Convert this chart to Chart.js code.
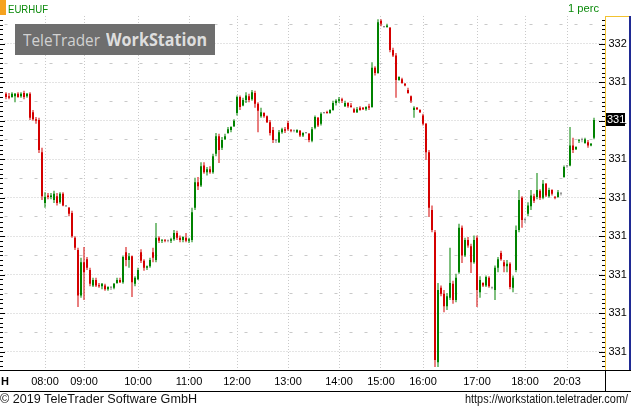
<!DOCTYPE html>
<html>
<head>
<meta charset="utf-8">
<script src="https://cdn.jsdelivr.net/npm/chart.js@4.4.0/dist/chart.umd.min.js"></script>
<style>
  html, body { margin: 0; padding: 0; background: #fff; }
  #wrap { position: relative; width: 631px; height: 408px; overflow: hidden; }
  #chart { position: absolute; left: 0; top: 0; }
  .t { position: absolute; white-space: nowrap; line-height: 1; transform-origin: 0 0; font-family: 'Liberation Sans', Arial, sans-serif; }
  #flag { position: absolute; left: 0; top: 0; width: 6px; height: 15px; background: #f5a21e; }
  #logo { position: absolute; left: 15px; top: 24px; width: 200px; height: 31px; background: #6e6e6e; }
  #sym, #period { color: #0a8a0a; font-size: 11.5px; }
  #logo1, #logo2 { font-family: 'Open Sans', sans-serif; font-size: 17px; }
  #logo1 { color: #d2d2d2; }
  #logo2 { color: #dedede; font-weight: bold; }
  #hh { font-size: 11px; font-weight: bold; color: #000; }
  #copy, #url { font-size: 13px; color: #111; }
</style>
</head>
<body>
<div id="wrap">
  <canvas id="chart" width="631" height="408"></canvas>
  <div id="flag"></div>
  <div class="t" id="sym">EURHUF</div>
  <div class="t" id="period">1 perc</div>
  <div id="logo"></div>
  <div class="t" id="logo1">TeleTrader</div>
  <div class="t" id="logo2">WorkStation</div>
  <div class="t" id="hh">H</div>
  <div class="t" id="copy">© 2019 TeleTrader Software GmbH</div>
  <div class="t" id="url">https://workstation.teletrader.com/</div>
</div>
<script>
// EURHUF, 1 minute candles (one slot per bar, gaps skipped)
const opens = [
  331.435, 331.432, 331.431, 331.432, 331.435, 331.432, 331.436, 331.432, 331.435, 331.411,
  331.402, 331.401, 331.359, 331.293, 331.303, 331.301, 331.297, 331.302, 331.294, 331.305,
  331.289, 331.287, 331.280, 331.248, 331.232, 331.173, 331.216, 331.220, 331.206, 331.186,
  331.193, 331.186, 331.185, 331.186, 331.181, 331.183, 331.183, 331.189, 331.193, 331.190,
  331.229, 331.219, 331.224, 331.188, 331.194, 331.229, 331.218, 331.209, 331.211, 331.229,
  331.219, 331.248, 331.244, 331.245, 331.244, 331.244, 331.246, 331.254, 331.248, 331.245,
  331.248, 331.244, 331.245, 331.287, 331.320, 331.316, 331.342, 331.333, 331.337, 331.333,
  331.357, 331.380, 331.365, 331.376, 331.384, 331.388, 331.393, 331.410, 331.431, 331.420,
  331.427, 331.432, 331.428, 331.436, 331.422, 331.406, 331.410, 331.406, 331.398, 331.388,
  331.374, 331.372, 331.385, 331.389, 331.397, 331.388, 331.387, 331.385, 331.387, 331.381,
  331.384, 331.383, 331.374, 331.391, 331.404, 331.396, 331.410, 331.411, 331.410, 331.414,
  331.423, 331.426, 331.428, 331.419, 331.423, 331.420, 331.415, 331.411, 331.417, 331.417,
  331.415, 331.419, 331.418, 331.469, 331.462, 331.530, 331.522, 331.522, 331.521, 331.492,
  331.485, 331.453, 331.454, 331.448, 331.440, 331.432, 331.414, 331.417, 331.414, 331.407,
  331.396, 331.359, 331.284, 331.255, 331.086, 331.183, 331.175, 331.159, 331.170, 331.188,
  331.167, 331.203, 331.261, 331.225, 331.245, 331.237, 331.216, 331.248, 331.177, 331.189,
  331.186, 331.196, 331.183, 331.180, 331.209, 331.228, 331.216, 331.211, 331.214, 331.183,
  331.206, 331.258, 331.300, 331.271, 331.279, 331.289, 331.302, 331.301, 331.309, 331.300,
  331.318, 331.302, 331.310, 331.301, 331.301, 331.305, 331.327, 331.341, 331.342, 331.368,
  331.363, 331.374, 331.375, 331.371, 331.372, 331.368, 331.378
];
const highs = [
  331.437, 331.436, 331.437, 331.436, 331.437, 331.437, 331.439, 331.436, 331.437, 331.414,
  331.405, 331.404, 331.365, 331.307, 331.306, 331.306, 331.309, 331.306, 331.307, 331.307,
  331.290, 331.288, 331.283, 331.250, 331.235, 331.222, 331.236, 331.223, 331.209, 331.196,
  331.196, 331.189, 331.189, 331.188, 331.185, 331.185, 331.189, 331.196, 331.196, 331.225,
  331.236, 331.228, 331.225, 331.198, 331.209, 331.233, 331.220, 331.212, 331.222, 331.235,
  331.267, 331.250, 331.246, 331.246, 331.245, 331.248, 331.258, 331.257, 331.251, 331.250,
  331.254, 331.248, 331.287, 331.326, 331.327, 331.346, 331.346, 331.340, 331.341, 331.357,
  331.384, 331.383, 331.379, 331.383, 331.392, 331.393, 331.402, 331.433, 331.433, 331.430,
  331.437, 331.435, 331.440, 331.439, 331.424, 331.417, 331.411, 331.407, 331.401, 331.392,
  331.376, 331.388, 331.391, 331.392, 331.400, 331.389, 331.388, 331.389, 331.388, 331.385,
  331.385, 331.384, 331.392, 331.407, 331.405, 331.411, 331.411, 331.413, 331.415, 331.426,
  331.428, 331.431, 331.430, 331.426, 331.424, 331.423, 331.417, 331.418, 331.419, 331.418,
  331.419, 331.422, 331.476, 331.471, 331.532, 331.532, 331.523, 331.526, 331.522, 331.495,
  331.488, 331.458, 331.456, 331.449, 331.443, 331.433, 331.419, 331.418, 331.415, 331.409,
  331.397, 331.362, 331.290, 331.258, 331.189, 331.186, 331.180, 331.176, 331.235, 331.192,
  331.201, 331.266, 331.264, 331.248, 331.249, 331.240, 331.251, 331.251, 331.198, 331.190,
  331.199, 331.198, 331.184, 331.212, 331.223, 331.231, 331.219, 331.219, 331.216, 331.199,
  331.264, 331.310, 331.302, 331.274, 331.294, 331.310, 331.305, 331.332, 331.311, 331.323,
  331.319, 331.313, 331.311, 331.302, 331.310, 331.307, 331.342, 331.342, 331.392, 331.378,
  331.367, 331.376, 331.378, 331.378, 331.375, 331.371, 331.404
];
const lows = [
  331.428, 331.428, 331.430, 331.424, 331.430, 331.430, 331.428, 331.430, 331.401, 331.400,
  331.396, 331.358, 331.297, 331.287, 331.298, 331.298, 331.293, 331.290, 331.292, 331.289,
  331.288, 331.276, 331.248, 331.232, 331.158, 331.170, 331.167, 331.206, 331.185, 331.184,
  331.184, 331.183, 331.181, 331.179, 331.179, 331.180, 331.181, 331.188, 331.189, 331.188,
  331.211, 331.209, 331.171, 331.185, 331.193, 331.215, 331.205, 331.206, 331.209, 331.216,
  331.216, 331.241, 331.241, 331.242, 331.242, 331.241, 331.244, 331.245, 331.242, 331.242,
  331.242, 331.241, 331.242, 331.284, 331.310, 331.314, 331.331, 331.329, 331.331, 331.331,
  331.354, 331.345, 331.362, 331.375, 331.383, 331.385, 331.392, 331.407, 331.414, 331.419,
  331.423, 331.424, 331.426, 331.417, 331.385, 331.404, 331.404, 331.397, 331.381, 331.371,
  331.371, 331.371, 331.383, 331.384, 331.387, 331.385, 331.385, 331.384, 331.379, 331.379,
  331.383, 331.372, 331.372, 331.389, 331.392, 331.394, 331.409, 331.409, 331.409, 331.413,
  331.420, 331.423, 331.423, 331.418, 331.417, 331.417, 331.410, 331.410, 331.413, 331.414,
  331.413, 331.414, 331.417, 331.459, 331.461, 331.523, 331.521, 331.521, 331.489, 331.483,
  331.430, 331.452, 331.448, 331.445, 331.435, 331.423, 331.404, 331.414, 331.410, 331.394,
  331.349, 331.275, 331.255, 331.080, 331.080, 331.172, 331.151, 331.154, 331.167, 331.162,
  331.164, 331.201, 331.215, 331.223, 331.235, 331.202, 331.214, 331.158, 331.170, 331.184,
  331.184, 331.183, 331.181, 331.167, 331.203, 331.218, 331.203, 331.203, 331.181, 331.177,
  331.203, 331.255, 331.261, 331.267, 331.276, 331.284, 331.293, 331.298, 331.297, 331.298,
  331.301, 331.300, 331.303, 331.298, 331.300, 331.303, 331.326, 331.339, 331.341, 331.358,
  331.362, 331.371, 331.372, 331.370, 331.365, 331.367, 331.376
];
const closes = [
  331.431, 331.430, 331.435, 331.435, 331.431, 331.435, 331.431, 331.435, 331.404, 331.402,
  331.400, 331.362, 331.302, 331.301, 331.301, 331.303, 331.305, 331.293, 331.305, 331.290,
  331.289, 331.279, 331.250, 331.235, 331.173, 331.216, 331.203, 331.209, 331.188, 331.193,
  331.186, 331.185, 331.188, 331.181, 331.184, 331.183, 331.188, 331.193, 331.190, 331.223,
  331.219, 331.224, 331.190, 331.196, 331.206, 331.218, 331.209, 331.211, 331.219, 331.222,
  331.248, 331.244, 331.245, 331.244, 331.244, 331.246, 331.254, 331.248, 331.245, 331.249,
  331.244, 331.246, 331.281, 331.320, 331.315, 331.341, 331.333, 331.337, 331.333, 331.354,
  331.380, 331.362, 331.375, 331.380, 331.389, 331.392, 331.400, 331.431, 331.418, 331.427,
  331.433, 331.427, 331.437, 331.422, 331.413, 331.411, 331.406, 331.398, 331.384, 331.375,
  331.374, 331.385, 331.389, 331.387, 331.389, 331.387, 331.387, 331.388, 331.381, 331.384,
  331.384, 331.375, 331.389, 331.405, 331.394, 331.409, 331.410, 331.410, 331.414, 331.423,
  331.426, 331.428, 331.426, 331.423, 331.419, 331.418, 331.411, 331.415, 331.414, 331.415,
  331.418, 331.417, 331.469, 331.462, 331.528, 331.526, 331.522, 331.524, 331.492, 331.485,
  331.453, 331.457, 331.449, 331.446, 331.436, 331.426, 331.417, 331.415, 331.411, 331.396,
  331.359, 331.287, 331.258, 331.089, 331.180, 331.175, 331.159, 331.172, 331.189, 331.167,
  331.196, 331.261, 331.225, 331.245, 331.238, 331.216, 331.245, 331.180, 331.193, 331.186,
  331.197, 331.185, 331.183, 331.209, 331.220, 331.220, 331.211, 331.214, 331.184, 331.196,
  331.258, 331.297, 331.271, 331.271, 331.290, 331.303, 331.296, 331.310, 331.300, 331.318,
  331.303, 331.310, 331.305, 331.300, 331.307, 331.305, 331.340, 331.341, 331.368, 331.362,
  331.366, 331.375, 331.375, 331.376, 331.368, 331.370, 331.401
];

// x axis: bar slots and the time labels shown under them
const slotCount = 200;
const tickIdx = [13, 26, 44, 61, 77, 94, 111, 125, 139, 157, 173, 187];
const tickText = ['08:00', '09:00', '10:00', '11:00', '12:00', '13:00', '14:00', '15:00', '16:00', '17:00', '18:00', '20:03'];

// y axis range and grid steps
const yMin = 331.076;
const yMax = 331.5362;
const majorStep = 0.05;
const minorStep = 0.025;
const rulerStep = 0.00625;

const UP = '#008200';
const DOWN = '#d40000';
const FLAT = '#8a8a8a';
const GRID = '#c9c9c9';

const slots = Array.from({ length: slotCount }, (_, i) => i);
const colors = opens.map((o, i) => closes[i] > o ? UP : closes[i] < o ? DOWN : FLAT);
const bodies = opens.map((o, i) => [o, closes[i]]);
const wicks = lows.map((l, i) => [l, highs[i]]);

const isMajor = v => Math.abs(v / majorStep - Math.round(v / majorStep)) < 1e-6;

// frame, rulers and last price box
const deco = {
  id: 'deco',
  beforeDraw(chart) {
    const c = chart.ctx;
    c.save();
    c.fillStyle = '#fff';
    c.fillRect(0, 0, chart.width, chart.height);
    c.restore();
  },
  afterDraw(chart) {
    const c = chart.ctx, y = chart.scales.y, a = chart.chartArea;
    c.save();
    c.fillStyle = '#000';
    for (let k = -8; k <= 80; k++) {
      const v = 331.1 + k * rulerStep;
      const py = Math.round(y.getPixelForValue(v));
      if (py < a.top + 2 || py > a.bottom - 1) continue;
      const big = k % 8 === 0;
      c.fillRect(0, py, big ? 5 : 3, 1);
      c.fillRect(big ? 599 : 602, py, big ? 6 : 3, 1);
    }
    c.fillStyle = '#f2c230';
    c.fillRect(605, 16, 1, 354);
    c.fillRect(605, 16, 26, 1);
    c.fillStyle = '#1f2a94';
    c.fillRect(629, 16, 2, 354);
    c.fillStyle = '#000';
    c.fillRect(0, 370, 631, 1);
    c.fillRect(0, 391, 631, 1);
    c.fillRect(605, 370, 1, 21);

    const last = closes[closes.length - 1];
    const py = Math.round(y.getPixelForValue(last));
    c.fillRect(606, py - 7, 19, 13);
    c.fillStyle = '#fff';
    c.font = '11px "Liberation Sans"';
    c.textAlign = 'left';
    c.textBaseline = 'middle';
    c.fillText(last.toFixed(0), 607, py);
    c.restore();
  }
};

Chart.defaults.font.family = "'Liberation Sans', Arial, sans-serif";
Chart.defaults.font.size = 11;

new Chart(document.getElementById('chart'), {
  type: 'bar',
  data: {
    labels: slots,
    datasets: [
      { label: 'body', data: bodies, backgroundColor: colors, maxBarThickness: 2, grouped: false, minBarLength: 1, inflateAmount: 0, borderWidth: 0 },
      { label: 'wick', data: wicks, backgroundColor: colors, maxBarThickness: 1, grouped: false, minBarLength: 1, inflateAmount: 0, borderWidth: 0 }
    ]
  },
  options: {
    responsive: false,
    animation: false,
    devicePixelRatio: 1,
    events: [],
    layout: { padding: { left: 4.5, top: 16, right: 0, bottom: 17 } },
    plugins: { legend: { display: false }, tooltip: { enabled: false } },
    scales: {
      x: {
        type: 'category',
        offset: true,
        grid: {
          offset: false,
          drawTicks: false,
          lineWidth: 1,
          color: ctx => tickIdx.includes(ctx.index) ? GRID : 'rgba(0,0,0,0)'
        },
        border: { display: false, dash: [1, 2] },
        ticks: {
          autoSkip: false,
          maxRotation: 0,
          minRotation: 0,
          padding: 5,
          color: '#000',
          callback: (v, i) => {
            const k = tickIdx.indexOf(i);
            return k >= 0 ? tickText[k] : '';
          }
        },
        afterFit: s => { s.height = 21; }
      },
      y: {
        position: 'right',
        min: yMin,
        max: yMax,
        grid: { drawTicks: false, lineWidth: 1, color: GRID },
        border: { display: false, dash: ctx => isMajor(ctx.tick.value) ? [1, 2] : [3, 12] },
        ticks: {
          stepSize: minorStep,
          includeBounds: false,
          autoSkip: false,
          padding: 4,
          color: '#000',
          callback: v => isMajor(v) ? v.toFixed(0) : ''
        },
        afterFit: s => { s.width = 26.5; }
      }
    }
  },
  plugins: [deco]
});

// header / footer text, stretched to the widths seen in the original
function place(id, left, baseline, width, ratio) {
  const el = document.getElementById(id);
  const size = parseFloat(getComputedStyle(el).fontSize);
  el.style.left = left + 'px';
  el.style.top = (baseline - size * ratio) + 'px';
  if (width) {
    const w = el.getBoundingClientRect().width;
    el.style.transform = 'scaleX(' + (width / w) + ')';
  }
}
place('sym', 8, 13.3, 40, 0.8465);
place('period', 568, 13, 31, 0.8465);
place('logo1', 23, 45.7, 77, 0.888);
place('logo2', 106, 45.7, 101, 0.888);
place('hh', 1, 385, 0, 0.8465);
place('copy', 0, 403.3, 197, 0.8465);
place('url', 465, 403.3, 163, 0.8465);
</script>
</body>
</html>
